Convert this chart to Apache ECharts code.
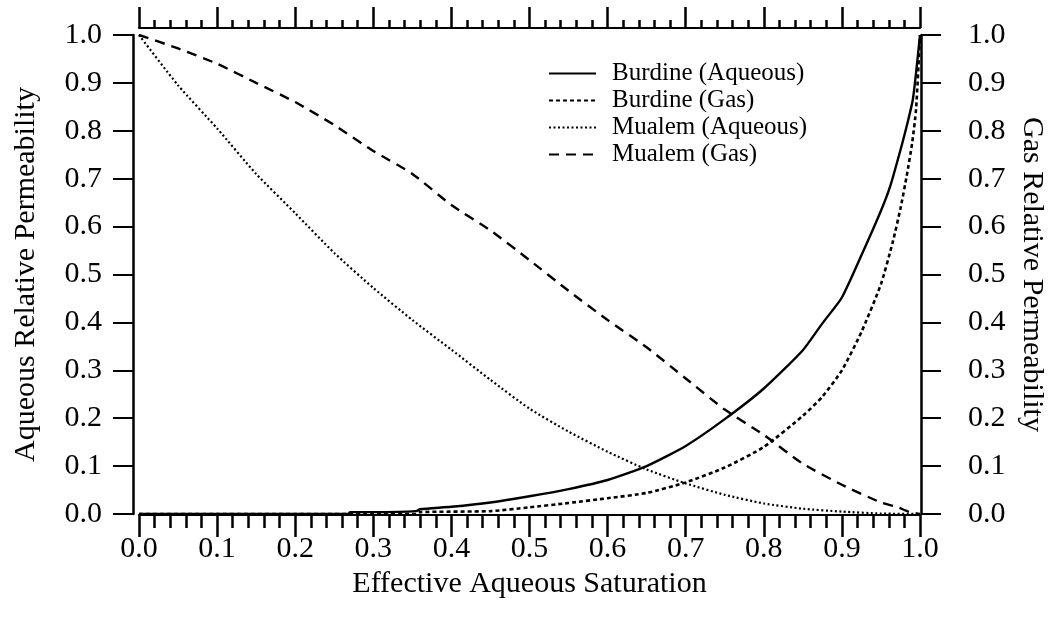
<!DOCTYPE html>
<html>
<head>
<meta charset="utf-8">
<script src="https://cdn.jsdelivr.net/npm/echarts@6/dist/echarts.min.js"></script>
<style>
  html, body { margin: 0; padding: 0; background: #fff; }
  #chart { width: 1052px; height: 624px; }
</style>
</head>
<body>
<div id="chart"></div>
<script>
// Relative permeability curves versus effective aqueous saturation
const seriesNames = ['Burdine (Aqueous)', 'Burdine (Gas)', 'Mualem (Aqueous)', 'Mualem (Gas)'];
const tickValues = [0, 0.1, 0.2, 0.3, 0.4, 0.5, 0.6, 0.7, 0.8, 0.9, 1.0];

// Burdine (Aqueous) - solid, rising
const satBurdineAq = [0, 0.1, 0.2, 0.268, 0.27, 0.3, 0.355, 0.36, 0.4, 0.45, 0.5, 0.55, 0.6, 0.65, 0.7, 0.75, 0.8, 0.85, 0.875, 0.9, 0.925, 0.95, 0.962, 0.975, 0.983, 0.991, 1.0];
const krBurdineAq  = [0, 0, 0, 0, 0.004, 0.004, 0.006, 0.01, 0.015, 0.024, 0.037, 0.052, 0.071, 0.1, 0.142, 0.198, 0.262, 0.342, 0.398, 0.452, 0.54, 0.633, 0.685, 0.76, 0.81, 0.867, 1.0];

// Burdine (Gas) - short dashes, rising
const satBurdineGas = [0, 0.1, 0.2, 0.3, 0.355, 0.36, 0.45, 0.5, 0.55, 0.6, 0.65, 0.7, 0.75, 0.8, 0.85, 0.875, 0.9, 0.925, 0.95, 0.965, 0.975, 0.983, 0.99, 0.995, 1.0];
const krBurdineGas  = [0, 0, 0, 0, 0, 0.004, 0.006, 0.014, 0.023, 0.033, 0.044, 0.066, 0.097, 0.14, 0.205, 0.245, 0.3, 0.38, 0.48, 0.567, 0.638, 0.706, 0.775, 0.846, 1.0];

// Mualem (Aqueous) - fine dots, falling
const satMualemAq = [0, 0.05, 0.1, 0.15, 0.2, 0.25, 0.3, 0.35, 0.4, 0.45, 0.5, 0.55, 0.6, 0.65, 0.7, 0.75, 0.8, 0.85, 0.9, 0.95, 1.0];
const krMualemAq  = [1.0, 0.895, 0.805, 0.71, 0.628, 0.545, 0.472, 0.405, 0.343, 0.28, 0.22, 0.172, 0.13, 0.093, 0.064, 0.04, 0.022, 0.011, 0.005, 0.001, 0];

// Mualem (Gas) - long dashes, falling
const satMualemGas = [0, 0.05, 0.1, 0.15, 0.2, 0.25, 0.3, 0.35, 0.4, 0.45, 0.5, 0.55, 0.6, 0.65, 0.7, 0.75, 0.8, 0.85, 0.9, 0.95, 0.97, 0.987, 1.0];
const krMualemGas  = [1.0, 0.972, 0.94, 0.9, 0.86, 0.812, 0.758, 0.71, 0.645, 0.592, 0.53, 0.466, 0.405, 0.348, 0.283, 0.218, 0.165, 0.105, 0.061, 0.024, 0.015, 0.004, 0];

const zip = (xs, ys) => xs.map((x, i) => [x, ys[i]]);

const FONT = 'Liberation Serif';
const FS = 30;        // tick labels and axis titles
const FS_LEGEND = 25; // legend entries
const INK = '#000';

const chart = echarts.init(document.getElementById('chart'), null, { renderer: 'canvas' });

const fmt = v => (Math.round(v * 10) / 10).toFixed(1);

function xAxisBase() {
  return {
    type: 'value', min: 0, max: 1, interval: 0.1,
    axisLine: { show: true, onZero: false, lineStyle: { color: INK, width: 2 } },
    splitLine: { show: false },
    minorSplitLine: { show: false }
  };
}

function yAxisBase(labelMargin) {
  return {
    type: 'value', min: 0, max: 1, interval: 0.1,
    axisLine: { show: true, onZero: false, lineStyle: { color: INK, width: 2.5 } },
    axisTick: { show: true, inside: false, length: 20, lineStyle: { color: INK, width: 2 } },
    splitLine: { show: false },
    axisLabel: { formatter: fmt, color: INK, fontFamily: FONT, fontSize: FS, margin: labelMargin },
    nameLocation: 'middle',
    nameTextStyle: { color: INK, fontFamily: FONT, fontSize: FS }
  };
}

const option = {
  backgroundColor: '#fff',
  animation: false,
  grid: { left: 139, right: 132, top: 35, bottom: 110, containLabel: false, outerBoundsMode: 'none' },
  legend: {
    orient: 'vertical',
    left: 543, top: 56,
    itemWidth: 47, itemHeight: 25, itemGap: 2,
    data: seriesNames,
    itemStyle: { opacity: 0, borderWidth: 0 },
    textStyle: { color: INK, fontFamily: FONT, fontSize: FS_LEGEND, padding: [0, 0, 0, 11] }
  },
  xAxis: [
    Object.assign(xAxisBase(), {
      position: 'bottom', offset: 1,
      axisTick: { show: true, inside: false, length: 22, lineStyle: { color: INK, width: 2.5 } },
      minorTick: { show: true, splitNumber: 5, length: 13, lineStyle: { color: INK, width: 2.5 } },
      axisLabel: { formatter: fmt, color: INK, fontFamily: FONT, fontSize: FS, margin: 19 },
      name: 'Effective Aqueous Saturation',
      nameLocation: 'middle', nameGap: 47,
      nameTextStyle: { color: INK, fontFamily: FONT, fontSize: FS }
    }),
    Object.assign(xAxisBase(), {
      position: 'top', offset: 7,
      axisTick: { show: true, inside: false, length: 21, lineStyle: { color: INK, width: 2.5 } },
      minorTick: { show: true, splitNumber: 5, length: 8, lineStyle: { color: INK, width: 2.5 } },
      axisLabel: { show: false }
    })
  ],
  yAxis: [
    Object.assign(yAxisBase(31), {
      position: 'left', offset: 6,
      name: 'Aqueous Relative Permeability', nameRotate: 90, nameGap: 92
    }),
    Object.assign(yAxisBase(47), {
      position: 'right', offset: 1,
      name: 'Gas Relative Permeability', nameRotate: -90, nameGap: 96
    })
  ],
  series: [
    {
      name: seriesNames[0], type: 'line', xAxisIndex: 0, yAxisIndex: 0,
      data: zip(satBurdineAq, krBurdineAq),
      symbol: 'none', smooth: 0.2,
      lineStyle: { color: INK, width: 2.4, type: 'solid' },
      itemStyle: { color: INK }
    },
    {
      name: seriesNames[1], type: 'line', xAxisIndex: 0, yAxisIndex: 1,
      data: zip(satBurdineGas, krBurdineGas),
      symbol: 'none', smooth: 0.2,
      lineStyle: { color: INK, width: 2.6, type: [4, 3] },
      itemStyle: { color: INK }
    },
    {
      name: seriesNames[2], type: 'line', xAxisIndex: 0, yAxisIndex: 0,
      data: zip(satMualemAq, krMualemAq),
      symbol: 'none', smooth: 0.2,
      lineStyle: { color: INK, width: 2.2, type: [2, 2.5] },
      itemStyle: { color: INK }
    },
    {
      name: seriesNames[3], type: 'line', xAxisIndex: 0, yAxisIndex: 1,
      data: zip(satMualemGas, krMualemGas),
      symbol: 'none', smooth: 0.2,
      lineStyle: { color: INK, width: 2.4, type: [10, 7] },
      itemStyle: { color: INK }
    }
  ]
};

chart.setOption(option);
</script>
</body>
</html>
